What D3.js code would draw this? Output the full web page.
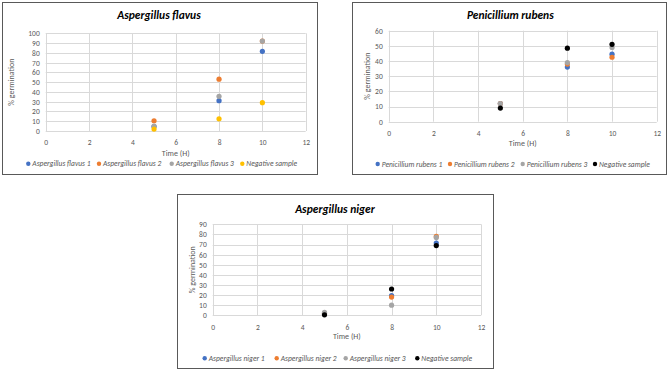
<!DOCTYPE html>
<html>
<head>
<meta charset="utf-8">
<script src="https://cdn.jsdelivr.net/npm/d3@7"></script>
<style>
  body { margin: 0; background: #fff; }
  svg text { font-family: Carlito, Calibri, Lato, "Open Sans", sans-serif; }
</style>
</head>
<body>
<div id="chart"></div>
<script>
// sampling times (hours)
var hours = [5, 8, 10];

// Aspergillus flavus
var flavus1 = [4.5, 31, 81.5];
var flavus2 = [10.5, 53, 92];
var flavus3 = [5, 35.5, 92];
var flavusNeg = [2, 12.5, 29];

// Penicillium rubens
var rubens1 = [12, 36, 44.5];
var rubens2 = [12, 38, 42.5];
var rubens3 = [12, 39, 49];
var rubensNeg = [9, 48.5, 51];

// Aspergillus niger
var niger1 = [1.5, 19.5, 71.5];
var niger2 = [1.5, 18, 78];
var niger3 = [3, 10, 77];
var nigerNeg = [0.5, 26, 69];

var xTicks = [0, 2, 4, 6, 8, 10, 12];
var colors = ["#4472C4", "#ED7D31", "#A5A5A5"];

var svg = d3.select("#chart").append("svg")
    .attr("width", 670)
    .attr("height", 371);

// one chart box: title, grid, axes, points and legend
function drawPanel(p) {
  var g = svg.append("g");

  g.append("rect")
    .attr("x", p.box[0] + 0.5).attr("y", p.box[1] + 0.5)
    .attr("width", p.box[2]).attr("height", p.box[3])
    .attr("fill", "#fff")
    .attr("stroke", "#595959")
    .attr("stroke-width", 1);

  var x = d3.scaleLinear().domain([0, 12]).range([p.plot[0], p.plot[0] + p.plot[2]]);
  var y = d3.scaleLinear().domain([0, p.yMax]).range([p.plot[1] + p.plot[3], p.plot[1]]);
  var yTicks = d3.range(0, p.yMax + 1, 10);

  // gridlines
  g.append("g").selectAll("line.h").data(yTicks).enter().append("line")
    .attr("x1", x(0)).attr("x2", x(12))
    .attr("y1", d => Math.round(y(d)) + 0.5).attr("y2", d => Math.round(y(d)) + 0.5)
    .attr("stroke", "#D9D9D9").attr("stroke-width", 1);
  g.append("g").selectAll("line.v").data(xTicks).enter().append("line")
    .attr("x1", d => Math.round(x(d)) + 0.5).attr("x2", d => Math.round(x(d)) + 0.5)
    .attr("y1", y(0)).attr("y2", y(p.yMax))
    .attr("stroke", "#D9D9D9").attr("stroke-width", 1);

  // axes, only the labels are kept
  var ax = g.append("g")
    .attr("transform", "translate(0," + y(0) + ")")
    .call(d3.axisBottom(x).tickValues(xTicks).tickSize(0).tickPadding(9));
  var ay = g.append("g")
    .attr("transform", "translate(" + x(0) + ",0)")
    .call(d3.axisLeft(y).tickValues(yTicks).tickSize(0).tickPadding(6));
  [ax, ay].forEach(function (a) {
    a.select(".domain").remove();
    a.selectAll("text")
      .attr("fill", "#595959")
      .style("font-size", "7.5px")
      .style("font-family", "Carlito, Calibri, Lato, sans-serif");
  });

  // title
  g.append("text")
    .attr("x", p.title[0]).attr("y", p.title[1])
    .attr("text-anchor", "middle")
    .attr("dominant-baseline", "central")
    .attr("font-size", 11.5)
    .attr("font-weight", "bold")
    .attr("font-style", "italic")
    .attr("fill", "#000")
    .text(p.name);

  // axis titles
  g.append("text")
    .attr("x", x(6)).attr("y", p.xTitleY)
    .attr("text-anchor", "middle")
    .attr("dominant-baseline", "central")
    .attr("font-size", 8)
    .attr("fill", "#595959")
    .text("Time (H)");
  g.append("text")
    .attr("transform", "translate(" + p.yTitleX + "," + (p.plot[1] + p.plot[3] / 2) + ") rotate(-90)")
    .attr("text-anchor", "middle")
    .attr("dominant-baseline", "central")
    .attr("font-size", 8)
    .attr("fill", "#595959")
    .text("% germination");

  // points
  p.series.forEach(function (s) {
    g.append("g").selectAll("circle").data(s.values).enter().append("circle")
      .attr("cx", (d, i) => x(hours[i]))
      .attr("cy", d => y(d))
      .attr("r", 2.6)
      .attr("fill", s.color);
  });

  // legend
  p.series.forEach(function (s, i) {
    var lx = p.legendX[i];
    g.append("circle")
      .attr("cx", lx).attr("cy", p.legendY)
      .attr("r", 2.2)
      .attr("fill", s.color);
    g.append("text")
      .attr("x", lx + 4).attr("y", p.legendY)
      .attr("dominant-baseline", "central")
      .attr("font-size", 7.5)
      .attr("font-style", "italic")
      .attr("fill", "#595959")
      .text(s.label);
  });
}

drawPanel({
  name: "Aspergillus flavus",
  box: [2, 2, 315, 172],
  plot: [45.7, 33.3, 260, 97.7],
  yMax: 100,
  title: [159, 14.5],
  xTitleY: 152.7,
  yTitleX: 11,
  legendY: 163.7,
  legendX: [28.3, 99, 171.7, 242.3],
  series: [
    {label: "Aspergillus flavus 1", color: colors[0], values: flavus1},
    {label: "Aspergillus flavus 2", color: colors[1], values: flavus2},
    {label: "Aspergillus flavus 3", color: colors[2], values: flavus3},
    {label: "Negative sample", color: "#FFC000", values: flavusNeg}
  ]
});

drawPanel({
  name: "Penicillium rubens",
  box: [352, 2, 314, 172],
  plot: [388.7, 30.7, 268, 91],
  yMax: 60,
  title: [510.3, 14.5],
  xTitleY: 142.7,
  yTitleX: 367,
  legendY: 164,
  legendX: [377.7, 450, 522.7, 595],
  series: [
    {label: "Penicillium rubens 1", color: colors[0], values: rubens1},
    {label: "Penicillium rubens 2", color: colors[1], values: rubens2},
    {label: "Penicillium rubens 3", color: colors[2], values: rubens3},
    {label: "Negative sample", color: "#000000", values: rubensNeg}
  ]
});

drawPanel({
  name: "Aspergillus niger",
  box: [177, 194, 316, 174],
  plot: [212.7, 224.3, 268.3, 91],
  yMax: 90,
  title: [335, 209.3],
  xTitleY: 336,
  yTitleX: 191.7,
  legendY: 358.3,
  legendX: [204.7, 276.7, 345.7, 417.3],
  series: [
    {label: "Aspergillus niger 1", color: colors[0], values: niger1},
    {label: "Aspergillus niger 2", color: colors[1], values: niger2},
    {label: "Aspergillus niger 3", color: colors[2], values: niger3},
    {label: "Negative sample", color: "#000000", values: nigerNeg}
  ]
});
</script>
</body>
</html>
